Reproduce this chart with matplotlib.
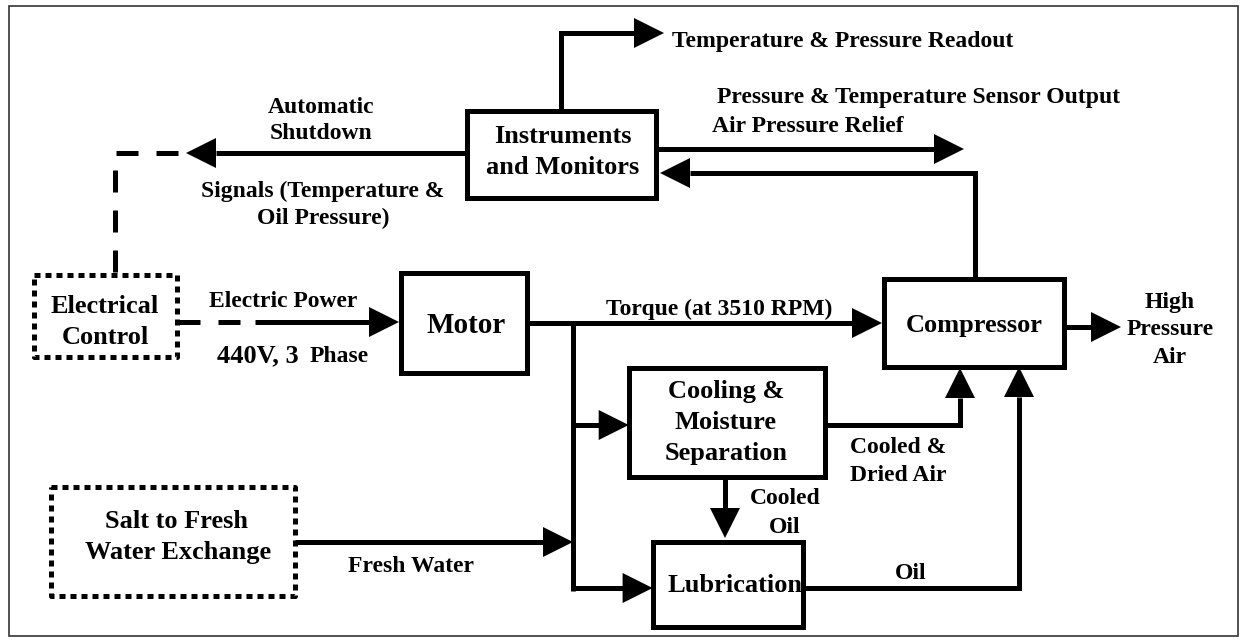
import matplotlib
matplotlib.use("Agg")
import matplotlib.pyplot as plt
from matplotlib.patches import Rectangle

plt.rcParams['font.family'] = ['Liberation Serif', 'DejaVu Serif']

# layout in pixel units of the 1243x643 picture (y grows downward)
W, H = 1243, 643
LW = 3.6  # about 5 px

# solid boxes: name -> (left, top, right, bottom)
solid_boxes = {
    "instruments": (466.6, 110.7, 656, 198),
    "motor": (401, 273, 527, 373),
    "compressor": (884, 279, 1064, 367),
    "cooling": (628.7, 368, 824.6, 477),
    "lubrication": (652.6, 542, 803.5, 627),
}
dotted_boxes = {
    "electrical": (33.6, 275, 177.5, 357),
    "salt": (51, 487, 294.6, 596),
}

# connector paths, arrow head at the last point (None = no head)
arrow_paths = [
    [(561.5, 110.7), (561.5, 33), (664, 33)],            # readout
    [(466.6, 153), (186, 153)],                           # automatic shutdown
    [(656, 149), (964, 149)],                             # air pressure relief
    [(975, 279), (975, 173), (660, 173)],                 # sensor output back
    [(255, 322), (399, 322)],                             # electric power
    [(527, 323), (882, 323)],                             # torque
    [(1064, 327), (1121, 327)],                           # high pressure air
    [(573, 425), (628.7, 425)],                           # to cooling
    [(294.6, 542), (573, 542)],                           # fresh water
    [(573, 588), (652.6, 588)],                           # to lubrication
    [(824.6, 425), (960, 425), (960, 368)],               # cooled & dried air
    [(725, 477), (725, 538)],                             # cooled oil
    [(803.5, 588), (1019, 588), (1019, 367)],             # oil
]
plain_paths = [
    [(573, 320.5), (573, 590.5)],                         # distribution bus
]
dashed_paths = [
    [(178, 153), (115, 153), (115, 275)],
    [(178, 322), (255, 322)],
]

# text lines
labels = ["Instruments", "and Monitors", "Motor", "Compressor",
          "Cooling &", "Moisture", "Separation", "Lubrication",
          "Electrical", "Control", "Salt to Fresh", "Water Exchange",
          "Automatic", "Shutdown", "Signals (Temperature &", "Oil Pressure)",
          "Temperature & Pressure Readout",
          "Pressure & Temperature Sensor Output", "Air Pressure Relief",
          "Electric Power", "440V, 3", "Phase", "Torque (at 3510 RPM)",
          "High", "Pressure", "Air", "Cooled &", "Dried Air",
          "Cooled", "Oil", "Oil", "Fresh Water"]
label_x = [563, 563, 466.5, 974,
           726, 726, 726, 735,
           104.5, 105, 177, 178,
           321.5, 321, 323, 323.5,
           671.6,
           717, 712,
           282.7, 217.5, 309.6, 832,
           1170, 1170, 1170, 898, 898,
           785, 785, 911, 411]
label_y = [143, 174, 333, 332,
           398, 429, 460, 591.7,
           313, 344, 528, 559,
           112.7, 139, 197, 224,
           46.7,
           103, 131.7,
           307, 362, 362, 315,
           308, 335, 363, 452.7, 480.7,
           504, 533, 579, 571.7]
label_size = [19, 19, 21, 19,
              19, 19, 19, 19,
              19, 19, 19, 19,
              17, 17, 17, 17,
              17,
              17, 17,
              17, 19, 17, 17,
              17, 17, 17, 17, 17,
              17, 17, 17, 17]
label_ha = ["center"] * 16 + ["left", "left", "left",
                              "center", "left", "left", "right"] + ["center"] * 9


def head(ax, p0, p1, length=30, half=15):
    (x0, y0), (x1, y1) = p0, p1
    dx, dy = x1 - x0, y1 - y0
    n = (dx ** 2 + dy ** 2) ** 0.5
    ux, uy = dx / n, dy / n
    bx, by = x1 - ux * length, y1 - uy * length
    px, py = -uy * half, ux * half
    ax.fill([x1, bx + px, bx - px], [y1, by + py, by - py],
            color="black", lw=0, zorder=4)
    return bx, by


fig = plt.figure(figsize=(W / 100, H / 100), dpi=100)
ax = fig.add_axes([0, 0, 1, 1])
ax.set_xlim(0, W)
ax.set_ylim(H, 0)
ax.axis("off")

# outer frame
ax.add_patch(Rectangle((9, 6), 1229, 630, fill=False, lw=1.2, ec="#333333"))

for l, t, r, b in solid_boxes.values():
    ax.add_patch(Rectangle((l, t), r - l, b - t, fill=False, lw=LW,
                           ec="black", joinstyle="miter", zorder=3))

for l, t, r, b in dotted_boxes.values():
    ax.plot([l, r, r, l, l], [t, t, b, b, t], color="black", lw=LW,
            linestyle=(0, (1.2, 1.0)), dash_capstyle="butt", zorder=3)

for path in arrow_paths:
    xs = [p[0] for p in path]
    ys = [p[1] for p in path]
    bx, by = head(ax, path[-2], path[-1])
    xs[-1], ys[-1] = bx, by
    ax.plot(xs, ys, color="black", lw=LW, solid_joinstyle="miter",
            solid_capstyle="butt", zorder=3)

for path in plain_paths:
    ax.plot([p[0] for p in path], [p[1] for p in path], color="black",
            lw=LW, solid_capstyle="butt", zorder=3)

for path in dashed_paths:
    ax.plot([p[0] for p in path], [p[1] for p in path], color="black",
            lw=LW, linestyle=(0, (4.4, 3.6)), dash_capstyle="butt", zorder=3)

for s, x, y, fs, ha in zip(labels, label_x, label_y, label_size, label_ha):
    ax.text(x, y, s, fontsize=fs, fontweight="bold", ha=ha, va="baseline",
            zorder=5)

fig.savefig("out.png", dpi=100)
plt.close(fig)
